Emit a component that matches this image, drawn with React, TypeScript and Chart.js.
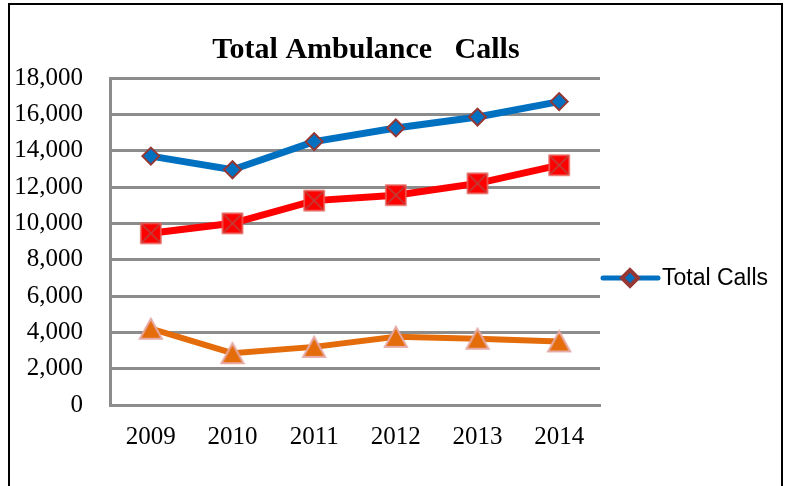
import React, { useEffect, useRef } from 'react';
import { Chart, registerables } from 'chart.js';

Chart.register(...registerables);

const years = ['2009', '2010', '2011', '2012', '2013', '2014'];
const totalCalls = [13700, 12950, 14500, 15250, 15850, 16700];
const seriesRed = [9450, 10000, 11250, 11550, 12200, 13200];
const seriesOrange = [4200, 2850, 3200, 3750, 3650, 3500];
const yTickValues = [0, 2000, 4000, 6000, 8000, 10000, 12000, 14000, 16000, 18000];
const titleText = 'Total Ambulance   Calls';
const seriesNames = ['Total Calls', 'Series 2', 'Series 3'];

function makeSquareX(): HTMLCanvasElement {
  const c = document.createElement('canvas');
  c.width = 24;
  c.height = 24;
  const g = c.getContext('2d')!;
  g.fillStyle = '#FF0000';
  g.fillRect(2, 2, 20, 20);
  g.strokeStyle = '#E8605A';
  g.lineWidth = 1.5;
  g.strokeRect(2, 2, 20, 20);
  g.strokeStyle = '#B8453F';
  g.lineWidth = 1.5;
  g.beginPath();
  g.moveTo(3, 3);
  g.lineTo(21, 21);
  g.moveTo(21, 3);
  g.lineTo(3, 21);
  g.stroke();
  return c;
}

function makeTriangle(): HTMLCanvasElement {
  const c = document.createElement('canvas');
  c.width = 26;
  c.height = 24;
  const g = c.getContext('2d')!;
  g.beginPath();
  g.moveTo(13, 2);
  g.lineTo(24, 22);
  g.lineTo(2, 22);
  g.closePath();
  g.fillStyle = '#E46C0A';
  g.fill();
  g.strokeStyle = '#E6A9A4';
  g.lineWidth = 2;
  g.lineJoin = 'miter';
  g.stroke();
  return c;
}

const overlayPlugin = {
  id: 'overlay',
  afterDraw(chart: any) {
    const ctx = chart.ctx as CanvasRenderingContext2D;
    ctx.save();
    ctx.fillStyle = '#000';
    ctx.font = 'bold 30px "Liberation Serif", serif';
    ctx.textAlign = 'center';
    ctx.textBaseline = 'middle';
    ctx.fillText(titleText, 366, 50);

    const ds = chart.data.datasets[0];
    const lx = chart.chartArea.right;
    const ly = 278;
    ctx.strokeStyle = ds.borderColor;
    ctx.lineWidth = 5;
    ctx.lineCap = 'round';
    ctx.beginPath();
    ctx.moveTo(lx + 3, ly);
    ctx.lineTo(lx + 58, ly);
    ctx.stroke();

    const cx = lx + 30;
    const r = 8;
    ctx.beginPath();
    ctx.moveTo(cx - r, ly);
    ctx.lineTo(cx, ly - r);
    ctx.lineTo(cx + r, ly);
    ctx.lineTo(cx, ly + r);
    ctx.closePath();
    ctx.fillStyle = ds.backgroundColor;
    ctx.fill();
    ctx.strokeStyle = '#953735';
    ctx.lineWidth = 4;
    ctx.lineJoin = 'miter';
    ctx.stroke();

    ctx.fillStyle = '#000';
    ctx.font = '23px "Liberation Sans", sans-serif';
    ctx.textAlign = 'left';
    ctx.textBaseline = 'middle';
    ctx.fillText(ds.label, lx + 62, ly + 1);
    ctx.restore();
  },
};

export default function App() {
  const canvasRef = useRef<HTMLCanvasElement | null>(null);

  useEffect(() => {
    if (!canvasRef.current) return;
    const squareX = makeSquareX();
    const tri = makeTriangle();
    const gridColor = '#8C8C8C';
    const chart = new Chart(canvasRef.current, {
      type: 'line',
      data: {
        labels: years,
        datasets: [
          {
            label: seriesNames[0],
            data: totalCalls,
            borderColor: '#0070C0',
            backgroundColor: '#0070C0',
            borderWidth: 7,
            pointStyle: 'rectRot',
            pointRadius: 8.5,
            pointBackgroundColor: '#0070C0',
            pointBorderColor: '#953735',
            pointBorderWidth: 2,
            tension: 0,
          } as any,
          {
            label: seriesNames[1],
            data: seriesRed,
            borderColor: '#FF0000',
            backgroundColor: '#FF0000',
            borderWidth: 7,
            pointStyle: squareX,
            pointRadius: 12,
            tension: 0,
          },
          {
            label: seriesNames[2],
            data: seriesOrange,
            borderColor: '#E46C0A',
            backgroundColor: '#E46C0A',
            borderWidth: 6,
            pointStyle: tri,
            pointRadius: 12,
            tension: 0,
          },
        ],
      },
      options: {
        responsive: false,
        animation: false,
        events: [],
        layout: { padding: { top: 78, right: 185, left: 0, bottom: 0 } },
        plugins: {
          legend: { display: false },
          title: { display: false },
          tooltip: { enabled: false },
        },
        scales: {
          x: {
            type: 'category',
            offset: true,
            grid: { display: false, drawTicks: false },
            border: { display: true, color: gridColor, width: 3 },
            ticks: {
              color: '#000',
              font: { family: '"Liberation Serif", serif', size: 25 },
              padding: 17,
              maxRotation: 0,
            },
            afterFit(axis: any) {
              axis.height = 81;
            },
          },
          y: {
            min: yTickValues[0],
            max: yTickValues[yTickValues.length - 1],
            grid: { color: gridColor, lineWidth: 3, drawTicks: false },
            border: { display: true, color: gridColor, width: 3 },
            ticks: {
              stepSize: yTickValues[1] - yTickValues[0],
              color: '#000',
              font: { family: '"Liberation Serif", serif', size: 25 },
              padding: 27,
              callback: (v: any) => Number(v).toLocaleString('en-US'),
            },
            afterFit(axis: any) {
              axis.width = 110;
            },
          },
        },
      },
      plugins: [overlayPlugin],
    });
    return () => chart.destroy();
  }, []);

  return (
    <div
      style={{
        position: 'fixed',
        left: 0,
        top: 0,
        width: 785,
        height: 486,
        overflow: 'hidden',
        background: '#fff',
      }}
    >
      <div
        style={{
          position: 'absolute',
          left: 8,
          top: 3,
          width: 775,
          height: 700,
          border: '2px solid #000',
          boxSizing: 'border-box',
        }}
      />
      <canvas
        ref={canvasRef}
        width={785}
        height={486}
        style={{ position: 'absolute', left: 0, top: 0, width: 785, height: 486 }}
      />
    </div>
  );
}
